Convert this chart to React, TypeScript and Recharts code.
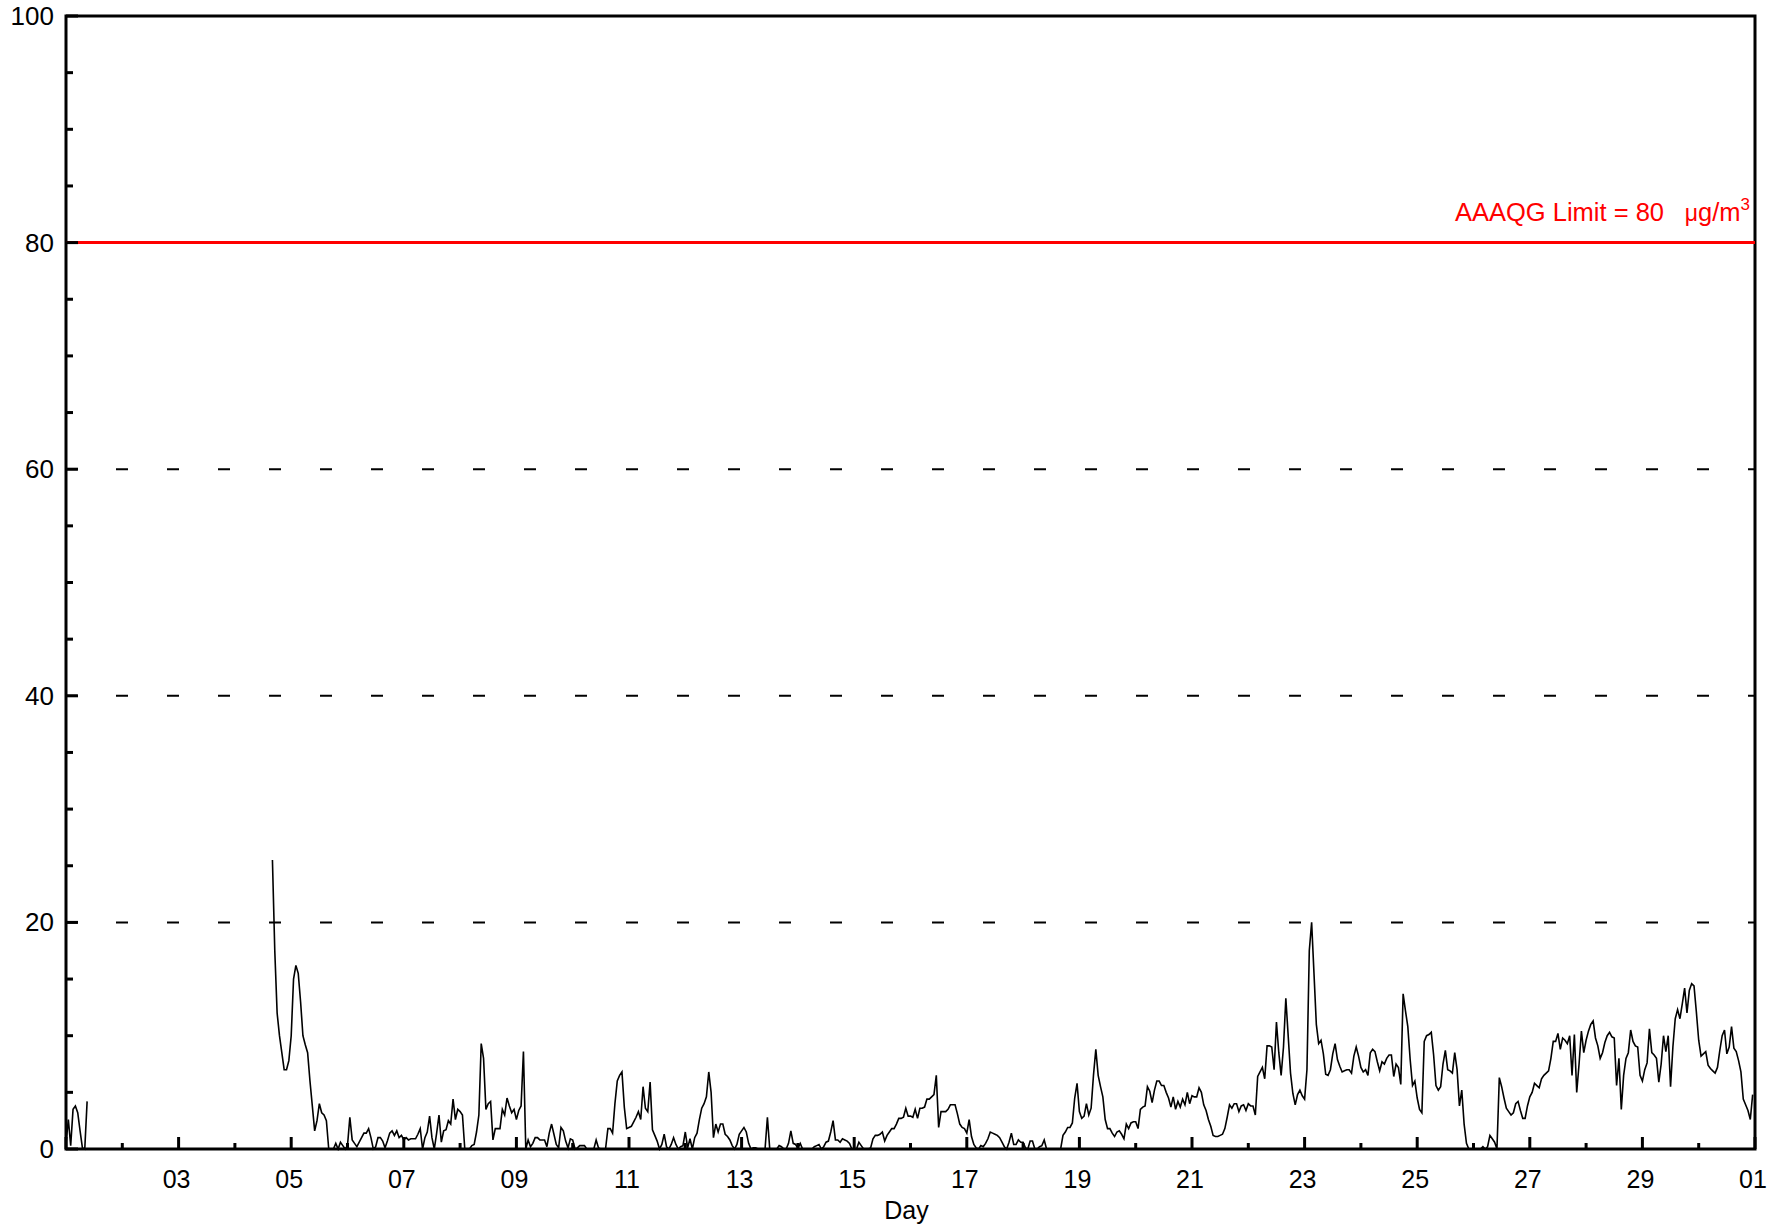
import { LineChart, Line, XAxis, YAxis, ReferenceLine, ReferenceArea } from 'recharts'

const FONT = '"Liberation Sans", Arial, Helvetica, sans-serif'

// hourly concentration (µg/m³), one array per day, null = no data
const d01 = [0.5, 2.6, 0.3, 3.5, 3.8, 3.2, 1.6, 0.1, 0, 4.2, null, null, null, null, null, null, null, null, null, null, null, null, null, null]
const d02 = [null, null, null, null, null, null, null, null, null, null, null, null, null, null, null, null, null, null, null, null, null, null, null, null]
const d03 = [null, null, null, null, null, null, null, null, null, null, null, null, null, null, null, null, null, null, null, null, null, null, null, null]
const d04 = [null, null, null, null, null, null, null, null, null, null, null, null, null, null, null, null, 25.5, 17.5, 12.0, 10.0, 8.5, 7.0, 7.0, 7.8]
const d05 = [10.0, 15.0, 16.2, 15.5, 13.0, 10.0, 9.2, 8.5, 6.0, 3.8, 1.6, 2.5, 4.0, 3.2, 3.0, 2.5, 0, 0, 0, 0.5, 0, 0.6, 0.3, 0]
const d06 = [0.3, 2.8, 0.8, 0.5, 0.2, 0.6, 1.0, 1.4, 1.4, 1.8, 1.0, 0, 0.2, 1.0, 1.0, 0.7, 0.1, 0.7, 1.4, 1.6, 1.2, 1.6, 1.0, 1.2]
const d07 = [0.8, 1.0, 0.8, 0.9, 0.9, 0.9, 1.3, 1.8, 0, 1.0, 1.5, 2.9, 1.0, 0, 1.4, 3.0, 0.6, 1.6, 1.7, 2.5, 2.2, 4.4, 2.6, 3.5]
const d08 = [3.3, 3.0, 0, 0, 0, 0.3, 0.4, 1.5, 3.0, 9.3, 8.0, 3.5, 4.0, 4.2, 0.8, 1.8, 1.8, 1.8, 3.5, 3.0, 4.5, 3.8, 3.2, 3.5]
const d09 = [2.6, 3.4, 3.8, 8.6, 0, 0.8, 0.2, 0.5, 1.0, 1.0, 0.8, 0.8, 0.8, 0.2, 1.4, 2.2, 1.3, 0.4, 0.1, 1.9, 1.6, 0.7, 0.1, 0.9]
const d10 = [0.8, 0, 0.1, 0.3, 0.3, 0.3, 0, 0, 0, 0, 0.8, 0.1, 0, 0, 0, 1.8, 1.8, 1.4, 4.0, 6.0, 6.5, 6.8, 3.7, 1.8]
const d11 = [1.9, 2.0, 2.4, 2.8, 3.3, 2.6, 5.5, 3.6, 3.3, 5.9, 1.7, 1.2, 0.7, 0, 0.4, 1.3, 0.2, 0, 0.4, 1.0, 0.4, 0, 0.2, 0.3]
const d12 = [1.5, 0.1, 0.9, 0, 1.0, 1.4, 2.6, 3.6, 4.0, 4.6, 6.8, 5.0, 1.0, 2.2, 1.5, 2.2, 2.2, 1.3, 1.1, 0.8, 0.3, 0, 0.4, 1.3]
const d13 = [1.6, 1.9, 1.5, 0.5, 0, 0.1, 0.1, 0, 0, 0, 0, 2.8, 0, 0, 0, 0, 0.3, 0.2, 0, 0, 0.5, 1.6, 0.5, 0.4]
const d14 = [0.1, 0.5, 0, 0, 0, 0, 0, 0.2, 0.3, 0.4, 0, 0.2, 0.6, 0.7, 1.5, 2.5, 0.8, 0.8, 0.6, 0.9, 0.8, 0.7, 0.5, 0]
const d15 = [0, 0, 0.6, 0.3, 0, 0, 0, 0.1, 0.9, 1.2, 1.2, 1.3, 1.5, 0.7, 1.2, 1.5, 1.8, 1.8, 2.2, 2.7, 2.7, 2.8, 3.6, 2.9]
const d16 = [2.9, 2.8, 3.5, 2.7, 3.6, 3.6, 3.7, 4.4, 4.4, 4.6, 4.8, 6.5, 1.9, 3.3, 3.3, 3.3, 3.5, 3.9, 3.9, 3.9, 3.1, 2.2, 1.9, 1.8]
const d17 = [1.4, 2.6, 1.1, 0.4, 0.1, 0, 0.3, 0.2, 0.5, 0.9, 1.5, 1.4, 1.3, 1.2, 1.0, 0.6, 0.2, 0, 0.6, 1.4, 0.4, 0.4, 0.8, 0.6]
const d18 = [0.6, 0.1, 0, 0.7, 0.7, 0, 0, 0.2, 0.3, 0.8, 0, 0, 0, 0, 0, 0, 0, 1.2, 1.5, 1.9, 1.9, 2.3, 4.5, 5.8]
const d19 = [3.3, 2.7, 2.9, 4.0, 3.0, 3.6, 6.5, 8.8, 6.5, 5.5, 4.6, 2.6, 1.8, 1.8, 1.4, 1.1, 1.5, 1.6, 1.3, 0.9, 2.2, 1.8, 2.3, 2.4]
const d20 = [2.4, 1.8, 3.5, 3.7, 3.8, 5.5, 5.1, 4.1, 5.2, 6.0, 6.0, 5.6, 5.6, 5.0, 4.5, 3.7, 4.6, 3.5, 4.2, 3.7, 4.4, 3.9, 5.0, 4.0]
const d21 = [4.7, 4.6, 4.6, 5.4, 5.0, 3.9, 3.4, 2.6, 2.0, 1.2, 1.1, 1.1, 1.2, 1.3, 1.8, 2.8, 3.9, 3.6, 4.0, 4.0, 3.3, 3.8, 3.9, 3.4]
const d22 = [4.0, 3.8, 3.8, 3.0, 6.4, 6.8, 7.2, 6.2, 9.1, 9.1, 9.0, 7.0, 11.2, 8.5, 6.5, 9.0, 13.3, 10.0, 6.7, 4.9, 3.9, 4.8, 5.2, 4.7]
const d23 = [4.4, 7.0, 17.5, 20.0, 15.5, 11.0, 9.3, 9.6, 8.4, 6.6, 6.5, 7.0, 8.4, 9.3, 7.9, 7.3, 6.8, 6.9, 7.0, 7.0, 6.7, 8.2, 9.0, 8.2]
const d24 = [7.2, 6.8, 7.0, 6.5, 8.5, 8.8, 8.6, 7.7, 6.9, 7.7, 7.5, 8.0, 8.3, 8.3, 6.4, 7.5, 7.2, 5.7, 13.7, 12.2, 10.8, 7.9, 5.6, 6.0]
const d25 = [4.5, 3.5, 3.2, 9.5, 10.0, 10.1, 10.3, 8.3, 5.6, 5.2, 5.5, 7.5, 8.7, 7.0, 6.9, 6.7, 8.5, 7.0, 3.8, 5.2, 2.2, 0.5, 0, 0]
const d26 = [0, 0, 0, 0, 0.2, 0, 0.2, 1.2, 0.9, 0.6, 0, 6.3, 5.5, 4.5, 3.6, 3.3, 3.0, 3.2, 4.0, 4.2, 3.4, 2.7, 2.7, 3.8]
const d27 = [4.6, 5.0, 5.8, 5.6, 5.4, 6.2, 6.5, 6.7, 6.9, 8.0, 9.5, 9.5, 10.2, 8.8, 9.8, 9.6, 9.3, 10.0, 6.5, 10.1, 5.0, 7.5, 10.4, 8.5]
const d28 = [9.6, 10.4, 11.0, 11.3, 9.8, 9.1, 8.0, 8.5, 9.4, 10.0, 10.3, 9.9, 9.8, 5.6, 8.0, 3.5, 6.5, 8.0, 8.5, 10.5, 9.5, 9.1, 9.0, 6.5]
const d29 = [6.0, 7.0, 7.6, 10.6, 8.5, 8.3, 8.0, 5.9, 7.5, 10.0, 8.6, 10.0, 5.5, 9.0, 11.5, 12.3, 11.5, 12.8, 14.2, 12.0, 14.0, 14.6, 14.4, 12.1]
const d30 = [9.6, 8.2, 8.4, 8.6, 7.4, 7.1, 6.9, 6.7, 7.2, 8.7, 10.0, 10.5, 8.4, 9.0, 10.8, 8.9, 8.6, 7.8, 6.8, 4.4, 3.9, 3.4, 2.6, 4.8]

const days = [d01, d02, d03, d04, d05, d06, d07, d08, d09, d10, d11, d12, d13, d14, d15,
  d16, d17, d18, d19, d20, d21, d22, d23, d24, d25, d26, d27, d28, d29, d30]

// axis ticks
const dayTicks = [1, 2, 3, 4, 5, 6, 7, 8, 9, 10, 11, 12, 13, 14, 15, 16, 17, 18, 19, 20,
  21, 22, 23, 24, 25, 26, 27, 28, 29, 30, 31]
const dayLabels = ['', '', '03', '', '05', '', '07', '', '09', '', '11', '', '13', '', '15', '',
  '17', '', '19', '', '21', '', '23', '', '25', '', '27', '', '29', '', '01']
const valueTicks = [0, 5, 10, 15, 20, 25, 30, 35, 40, 45, 50, 55, 60, 65, 70, 75, 80, 85, 90, 95, 100]
const gridValues = [20, 40, 60]
const limit = 80

const data = days.flatMap((vals, di) => vals.map((v, h) => ({ hour: di * 24 + h, conc: v })))

function DayTick(props: any) {
  const { x, y, payload } = props
  const idx = Math.round(payload.value / 24)
  const label = dayLabels[idx]
  const major = idx % 2 === 0
  return (
    <g>
      <line x1={x} x2={x} y1={y} y2={y - (major ? 12 : 6)} stroke="#000" strokeWidth={3} />
      {label ? (
        <text x={x - 2} y={y + 39} textAnchor="middle" fontSize={25} fontFamily={FONT} fill="#000">
          {label}
        </text>
      ) : null}
    </g>
  )
}

function ValueTick(props: any) {
  const { x, y, payload } = props
  const v = payload.value
  const major = v % 20 === 0
  return (
    <g>
      <line x1={x} x2={x + (major ? 12 : 7)} y1={y} y2={y} stroke="#000" strokeWidth={3} />
      {major ? (
        <text x={x - 12} y={y + 9} textAnchor="end" fontSize={26} fontFamily={FONT} fill="#000">
          {v}
        </text>
      ) : null}
    </g>
  )
}

function LimitLabel(props: any) {
  const vb = props.viewBox || {}
  const right = vb.x + vb.width
  const base = vb.y - 22
  return (
    <g fontFamily={FONT} fill="#ff0000">
      <text x={right - 91} y={base} textAnchor="end" fontSize={25.5} fill="#ff0000">
        {`AAAQG Limit = ${limit}`}
      </text>
      <text x={right - 5} y={base} textAnchor="end" fontSize={25.5} fill="#ff0000">
        <tspan fontSize={23}>μ</tspan>
        <tspan>g/m</tspan>
        <tspan fontSize={17} dy={-11}>3</tspan>
      </text>
    </g>
  )
}

export default function App() {
  return (
    <div style={{ position: 'absolute', left: 0, top: 0, width: 1781, height: 1228, background: '#fff' }}>
      <LineChart width={1781} height={1228} data={data} margin={{ top: 16, right: 26, bottom: 0, left: 0 }}>
        <XAxis
          type="number"
          dataKey="hour"
          domain={[0, 720]}
          ticks={dayTicks.map((d) => (d - 1) * 24)}
          interval={0}
          height={79}
          tickSize={0}
          tickMargin={0}
          tickLine={false}
          axisLine={false}
          tick={<DayTick />}
          label={{ value: 'Day', position: 'insideBottom', offset: 9, fontSize: 25, fill: '#000', fontFamily: FONT, dx: -4 }}
        />
        <YAxis
          type="number"
          domain={[0, 100]}
          ticks={valueTicks}
          interval={0}
          width={66}
          tickSize={0}
          tickMargin={0}
          tickLine={false}
          axisLine={false}
          tick={<ValueTick />}
        />
        <ReferenceArea x1={0} x2={720} y1={0} y2={100} fill="none" fillOpacity={0} stroke="#000" strokeWidth={3} />
        {gridValues.map((v) => (
          <ReferenceLine key={v} y={v} stroke="#000" strokeWidth={2} strokeDasharray="12 39" strokeDashoffset={1} />
        ))}
        <ReferenceLine y={limit} stroke="#ff0000" strokeWidth={3} label={<LimitLabel />} />
        <Line
          type="linear"
          dataKey="conc"
          stroke="#000"
          strokeWidth={1.6}
          dot={false}
          connectNulls={false}
          isAnimationActive={false}
        />
      </LineChart>
    </div>
  )
}
